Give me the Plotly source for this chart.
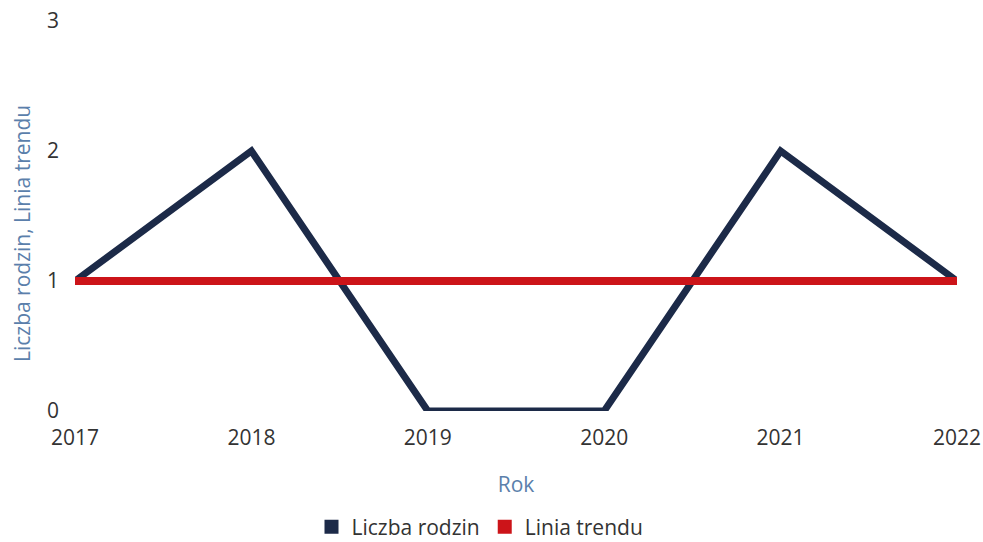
import plotly.graph_objects as go

years = [2017, 2018, 2019, 2020, 2021, 2022]
liczba_rodzin = [1, 2, 0, 0, 2, 1]
linia_trendu = [1, 1, 1, 1, 1, 1]
y_ticks = [0, 1, 2, 3]

navy = "#1c2a48"
red = "#cc1419"
blue_title = "#5b7fab"
font = "Open Sans"

W, H = 983, 542
fig = go.Figure()
fig.add_trace(go.Scatter(x=years, y=liczba_rodzin, mode="lines", name="Liczba rodzin",
                         line=dict(color=navy, width=7), showlegend=False))
fig.add_trace(go.Scatter(x=years, y=linia_trendu, mode="lines", name="Linia trendu",
                         line=dict(color=red, width=8), showlegend=False))
# legend entries with square swatches
fig.add_trace(go.Scatter(x=[None], y=[None], mode="markers", name="Liczba rodzin",
                         marker=dict(symbol="square", color=navy, size=14)))
fig.add_trace(go.Scatter(x=[None], y=[None], mode="markers", name="Linia trendu",
                         marker=dict(symbol="square", color=red, size=14)))

fig.update_layout(
    width=W, height=H,
    margin=dict(l=75, r=26, t=21, b=131),
    paper_bgcolor="white", plot_bgcolor="white",
    font=dict(family=font, size=21, color="#333333"),
    showlegend=True,
    legend=dict(orientation="h", xref="container", yref="container",
                x=480 / W, xanchor="center", y=1 - 527 / H, yanchor="middle",
                font=dict(size=21, color="#333333"), itemwidth=30),
    xaxis=dict(
        range=[2017, 2022], tickvals=years, ticktext=[str(y) for y in years],
        showgrid=False, zeroline=False, showline=False, ticks="",
        ticklabelstandoff=12, automargin=False, ticklabeloverflow="allow",
        title=dict(text="Rok", font=dict(size=21, color=blue_title), standoff=27),
    ),
    yaxis=dict(
        range=[0, 3], tickvals=y_ticks, showgrid=False, zeroline=False, showline=False,
        ticks="", ticklabelstandoff=15, automargin=False, ticklabeloverflow="allow",
    ),
    annotations=[dict(
        text="Liczba rodzin, Linia trendu", textangle=-90, showarrow=False,
        xref="paper", yref="paper", x=-0.060, y=0.454, xanchor="center", yanchor="middle",
        font=dict(size=21, color=blue_title),
    )],
)

fig.write_html("out.html", config={"displayModeBar": False},
               post_script="document.body.style.margin='0';")
